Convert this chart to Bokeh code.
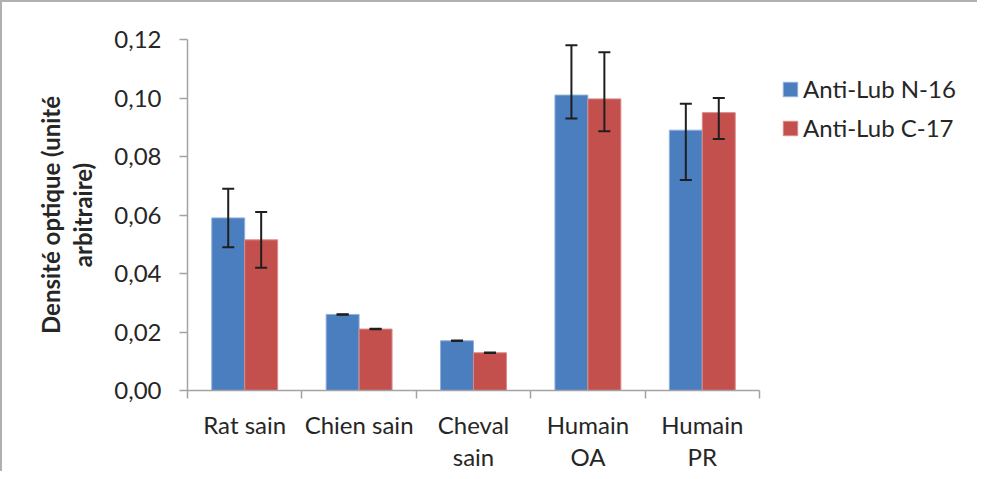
from bokeh.plotting import figure
from bokeh.models import (ColumnDataSource, FixedTicker, CustomJSTickFormatter,
                          Legend, LegendItem, Range1d)
from bokeh.embed import file_html
from bokeh.resources import INLINE

# ---- data ----
categories = ["Rat sain", "Chien sain", "Cheval\nsain", "Humain\nOA", "Humain\nPR"]
series = ["Anti-Lub N-16", "Anti-Lub C-17"]
n16 = [0.059, 0.026, 0.017, 0.101, 0.089]
n16_upper = [0.069, 0.0261, 0.0171, 0.118, 0.098]
n16_lower = [0.049, 0.0259, 0.0169, 0.093, 0.072]
c17 = [0.0515, 0.021, 0.0129, 0.0997, 0.095]
c17_upper = [0.061, 0.0211, 0.0130, 0.1156, 0.100]
c17_lower = [0.042, 0.0209, 0.0128, 0.0886, 0.086]
y_ticks = [0.0, 0.02, 0.04, 0.06, 0.08, 0.10, 0.12]

colors = ["#4a7ebf", "#c4504d"]
FONT = "Lato"
TXT = "#262626"
GRAY = "#a3a3a3"
ERR = "#1f1f1f"
bar_w = 0.288

# layout (pixels)
W, H = 977, 471
B_LEFT, B_RIGHT, B_TOP, B_BOTTOM = 185, 5, 37, 83
AXIS_PX = 572                      # width of the category axis
frame_w = W - B_LEFT - B_RIGHT
n_cat = len(categories)
x_end = n_cat * frame_w / AXIS_PX  # frame extends right to host the legend

idx = list(range(n_cat))
src_n = ColumnDataSource(dict(x=[i + 0.5 - bar_w / 2 for i in idx], top=n16,
                              upper=n16_upper, lower=n16_lower))
src_c = ColumnDataSource(dict(x=[i + 0.5 + bar_w / 2 for i in idx], top=c17,
                              upper=c17_upper, lower=c17_lower))

p = figure(width=W, height=H, output_backend="svg", toolbar_location=None,
           x_range=Range1d(0, x_end), y_range=Range1d(0, 0.12),
           min_border_left=B_LEFT, min_border_right=B_RIGHT, min_border_top=B_TOP,
           min_border_bottom=B_BOTTOM)
p.outline_line_color = None
p.xgrid.visible = False
p.ygrid.visible = False
p.background_fill_color = "white"
p.border_fill_color = "white"
p.styles = {"border-top": "2px solid #b0b0b0", "border-left": "2px solid #b0b0b0"}

r1 = p.vbar(x="x", top="top", width=bar_w, source=src_n, fill_color=colors[0],
            line_color="#8fb0dc", line_width=1)
r2 = p.vbar(x="x", top="top", width=bar_w, source=src_c, fill_color=colors[1],
            line_color="#d98a88", line_width=1)

for src in (src_n, src_c):
    p.segment(x0="x", y0="lower", x1="x", y1="upper", source=src,
              line_color=ERR, line_width=2)
    p.scatter(x="x", y="upper", source=src, marker="dash", size=12,
              line_color=ERR, line_width=2)
    p.scatter(x="x", y="lower", source=src, marker="dash", size=12,
              line_color=ERR, line_width=2)

# x axis
xa = p.xaxis[0]
xa.bounds = (0, n_cat)
xa.ticker = FixedTicker(ticks=[i + 0.5 for i in idx], minor_ticks=list(range(n_cat + 1)))
xa.major_label_overrides = {i + 0.5: c for i, c in zip(idx, categories)}
xa.major_tick_out = 0
xa.major_tick_in = 0
xa.minor_tick_out = 8
xa.minor_tick_in = 0
xa.minor_tick_line_color = GRAY
xa.minor_tick_line_width = 1.5
xa.axis_line_color = GRAY
xa.axis_line_width = 1.5
xa.major_label_text_font = FONT
xa.major_label_text_font_size = "24px"
xa.major_label_text_color = TXT
xa.major_label_text_line_height = 1.12
xa.major_label_standoff = 11

# y axis
ya = p.yaxis[0]
ya.ticker = FixedTicker(ticks=y_ticks)
ya.formatter = CustomJSTickFormatter(code="return tick.toFixed(2).replace('.', ',');")
ya.major_tick_out = 8
ya.major_tick_in = 0
ya.minor_tick_out = 0
ya.minor_tick_in = 0
ya.major_tick_line_color = GRAY
ya.major_tick_line_width = 1.5
ya.axis_line_color = GRAY
ya.axis_line_width = 1.5
ya.major_label_text_font = FONT
ya.major_label_text_font_size = "24px"
ya.major_label_text_color = TXT
ya.major_label_standoff = 18
ya.axis_label = "Densité optique (unité\narbitraire)"
ya.axis_label_text_font = FONT
ya.axis_label_text_font_style = "bold"
ya.axis_label_text_font_size = "24px"
ya.axis_label_text_color = TXT
ya.axis_label_text_line_height = 1.1
ya.axis_label_standoff = 14

legend = Legend(items=[LegendItem(label=series[0], renderers=[r1]),
                       LegendItem(label=series[1], renderers=[r2])],
                location=(594, 248), orientation="vertical",
                glyph_width=18, glyph_height=18, label_height=24, spacing=10,
                padding=0, margin=0, label_standoff=4,
                label_text_font=FONT, label_text_font_size="24px",
                label_text_color=TXT, border_line_color=None,
                background_fill_alpha=0)
p.add_layout(legend)

open("out.html", "w").write(file_html(p, INLINE))
